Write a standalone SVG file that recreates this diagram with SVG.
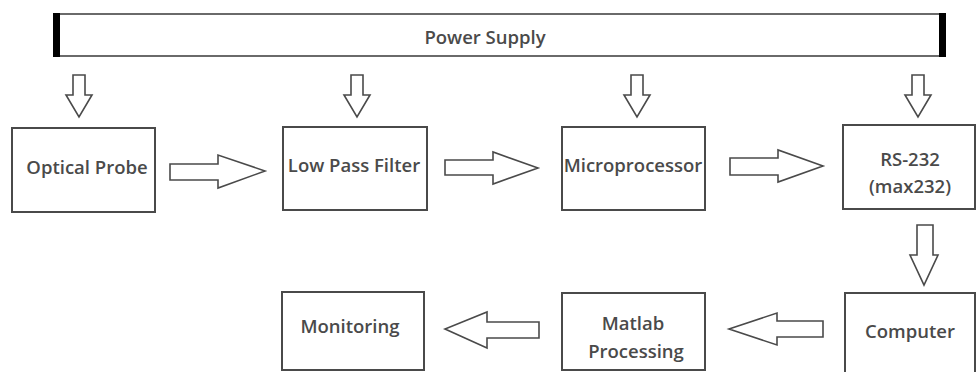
<svg xmlns="http://www.w3.org/2000/svg" width="976" height="372" viewBox="0 0 976 372">
  <style>
    .box { fill: #ffffff; stroke: #4a4a4a; stroke-width: 2; }
    .arrow { fill: #ffffff; stroke: #4a4a4a; stroke-width: 1.6; stroke-linejoin: miter; }
    .label { font-family: "Open Sans", "Liberation Sans", sans-serif; font-size: 18.5px; font-weight: 600; fill: #4a4a4a; text-anchor: middle; }
  </style>
  <defs>
    <!-- small supply arrow, tip at origin -->
    <path id="supplyArrow" d="M -6 -42 L 6 -42 L 6 -22 L 13 -22 L 0 0 L -13 -22 L -6 -22 Z"/>
  </defs>
  <rect width="976" height="372" fill="#ffffff"/>

  <g id="power-supply">
    <rect x="56" y="14" width="887" height="42" fill="#ffffff" stroke="#6a6a6a" stroke-width="2"/>
    <rect x="53" y="13" width="7" height="44" fill="#000000"/>
    <rect x="939" y="13" width="7" height="44" fill="#000000"/>
    <text class="label" x="485" y="44">Power Supply</text>
  </g>

  <g id="optical-probe">
    <rect class="box" x="12" y="128" width="143" height="84"/>
    <text class="label" x="87" y="174">Optical Probe</text>
  </g>

  <g id="low-pass-filter">
    <rect class="box" x="283" y="127" width="144" height="83"/>
    <text class="label" x="354" y="172">Low Pass Filter</text>
  </g>

  <g id="microprocessor">
    <rect class="box" x="562" y="127" width="143" height="83"/>
    <text class="label" x="633" y="172">Microprocessor</text>
  </g>

  <g id="rs232">
    <rect class="box" x="843" y="125" width="132" height="84"/>
    <text class="label" x="910" y="166">RS-232</text>
    <text class="label" x="910" y="193">(max232)</text>
  </g>

  <g id="computer">
    <rect class="box" x="845" y="293" width="130" height="82"/>
    <text class="label" x="910" y="338">Computer</text>
  </g>

  <g id="matlab-processing">
    <rect class="box" x="562" y="293" width="143" height="77"/>
    <text class="label" x="633" y="330">Matlab</text>
    <text class="label" x="636" y="358">Processing</text>
  </g>

  <g id="monitoring">
    <rect class="box" x="282" y="292" width="142" height="78"/>
    <text class="label" x="350" y="333">Monitoring</text>
  </g>

  <g id="connectors">
    <!-- supply feeds -->
    <use href="#supplyArrow" class="arrow" x="79" y="117"/>
    <use href="#supplyArrow" class="arrow" x="357" y="117"/>
    <use href="#supplyArrow" class="arrow" x="637" y="117"/>
    <use href="#supplyArrow" class="arrow" x="918" y="117"/>
    <!-- signal chain -->
    <path class="arrow" d="M 170 164 L 218 164 L 218 155 L 265 171 L 218 188 L 218 180 L 170 180 Z"/>
    <path class="arrow" d="M 445 160 L 493 160 L 493 152 L 538 168 L 493 184 L 493 175 L 445 175 Z"/>
    <path class="arrow" d="M 730 158 L 778 158 L 778 150 L 823 166 L 778 182 L 778 175 L 730 175 Z"/>
    <path class="arrow" d="M 917 225 L 933 225 L 933 255 L 938 255 L 924 285 L 910 255 L 917 255 Z"/>
    <path class="arrow" d="M 823 321 L 777 321 L 777 313 L 729 329 L 777 345 L 777 337 L 823 337 Z"/>
    <path class="arrow" d="M 539 322 L 487 322 L 487 312 L 445 329 L 487 348 L 487 338 L 539 338 Z"/>
  </g>
</svg>
